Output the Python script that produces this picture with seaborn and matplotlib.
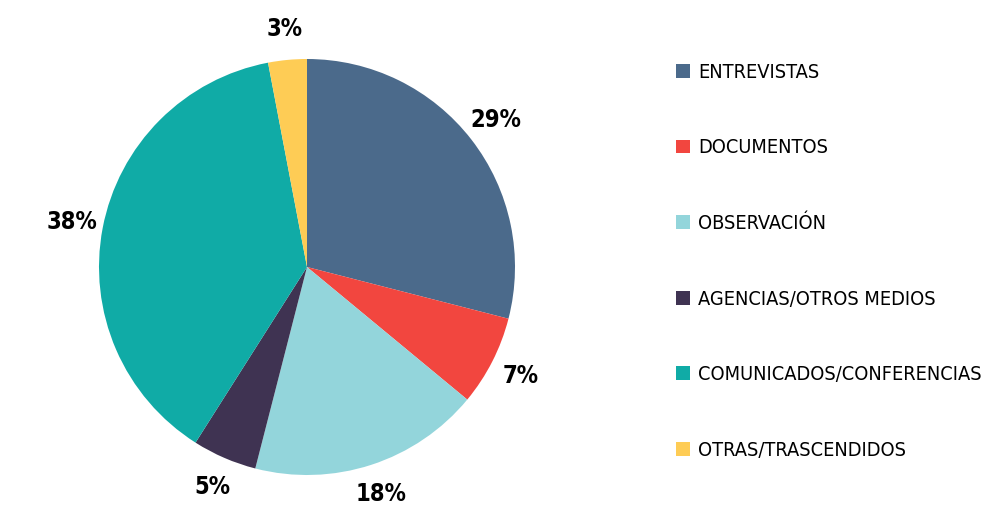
import matplotlib
matplotlib.use("Agg")
import matplotlib.pyplot as plt
from matplotlib import font_manager
import seaborn as sns

# datos
categorias = ["ENTREVISTAS", "DOCUMENTOS", "OBSERVACIÓN", "AGENCIAS/OTROS MEDIOS",
              "COMUNICADOS/CONFERENCIAS", "OTRAS/TRASCENDIDOS"]
porcentajes = [29, 7, 18, 5, 38, 3]
colores = ["#4b6a8b", "#f2463f", "#93d5db", "#3f3352", "#10aba6", "#fecc55"]

sns.set_theme(style="white")

# buscar una fuente estrecha si hay alguna
narrow = [f for f in font_manager.fontManager.ttflist
          if str(f.stretch) in ("condensed", "semi-condensed", "extra-condensed", "ultra-condensed")
          or "Narrow" in f.name or "Condensed" in f.name]
if narrow:
    fam = narrow[0].name
    stretch = narrow[0].stretch
else:
    fam = "Liberation Sans"
    stretch = "normal"
plt.rcParams["font.family"] = [fam, "DejaVu Sans"]

fig = plt.figure(figsize=(9.9, 5.05), dpi=100)
ax = fig.add_axes([99 / 990, 30 / 505, 416 / 990, 416 / 505])

wedges, texts, autotexts = ax.pie(
    porcentajes, colors=sns.color_palette(colores), startangle=90, counterclock=False,
    autopct="%d%%", pctdistance=1.15, radius=1, wedgeprops=dict(linewidth=0),
    textprops=dict(fontsize=17, fontweight="bold", color="black", fontstretch=stretch),
)
ax.set_xlim(-1, 1)
ax.set_ylim(-1, 1)
ax.set_aspect("equal")

# ajustar el tamaño para que la etiqueta mas larga quepa en ~285 px
renderer = fig.canvas.get_renderer()
t = fig.text(0, 0, max(categorias, key=len), fontsize=16, fontstretch=stretch)
ancho = t.get_window_extent(renderer).width
t.remove()
size = min(17, 16 * 285 / ancho)

fig.legend(wedges, categorias, loc="upper left", bbox_to_anchor=(668 / 990, 1 - 55 / 505),
           frameon=False, handlelength=0.7, handleheight=0.7,
           handletextpad=0.4, labelspacing=76.5 / (size * 1.39) - 1, borderaxespad=0,
           prop=dict(size=size, stretch=stretch), labelcolor="black")

fig.savefig("out.png", dpi=100, facecolor="white")
